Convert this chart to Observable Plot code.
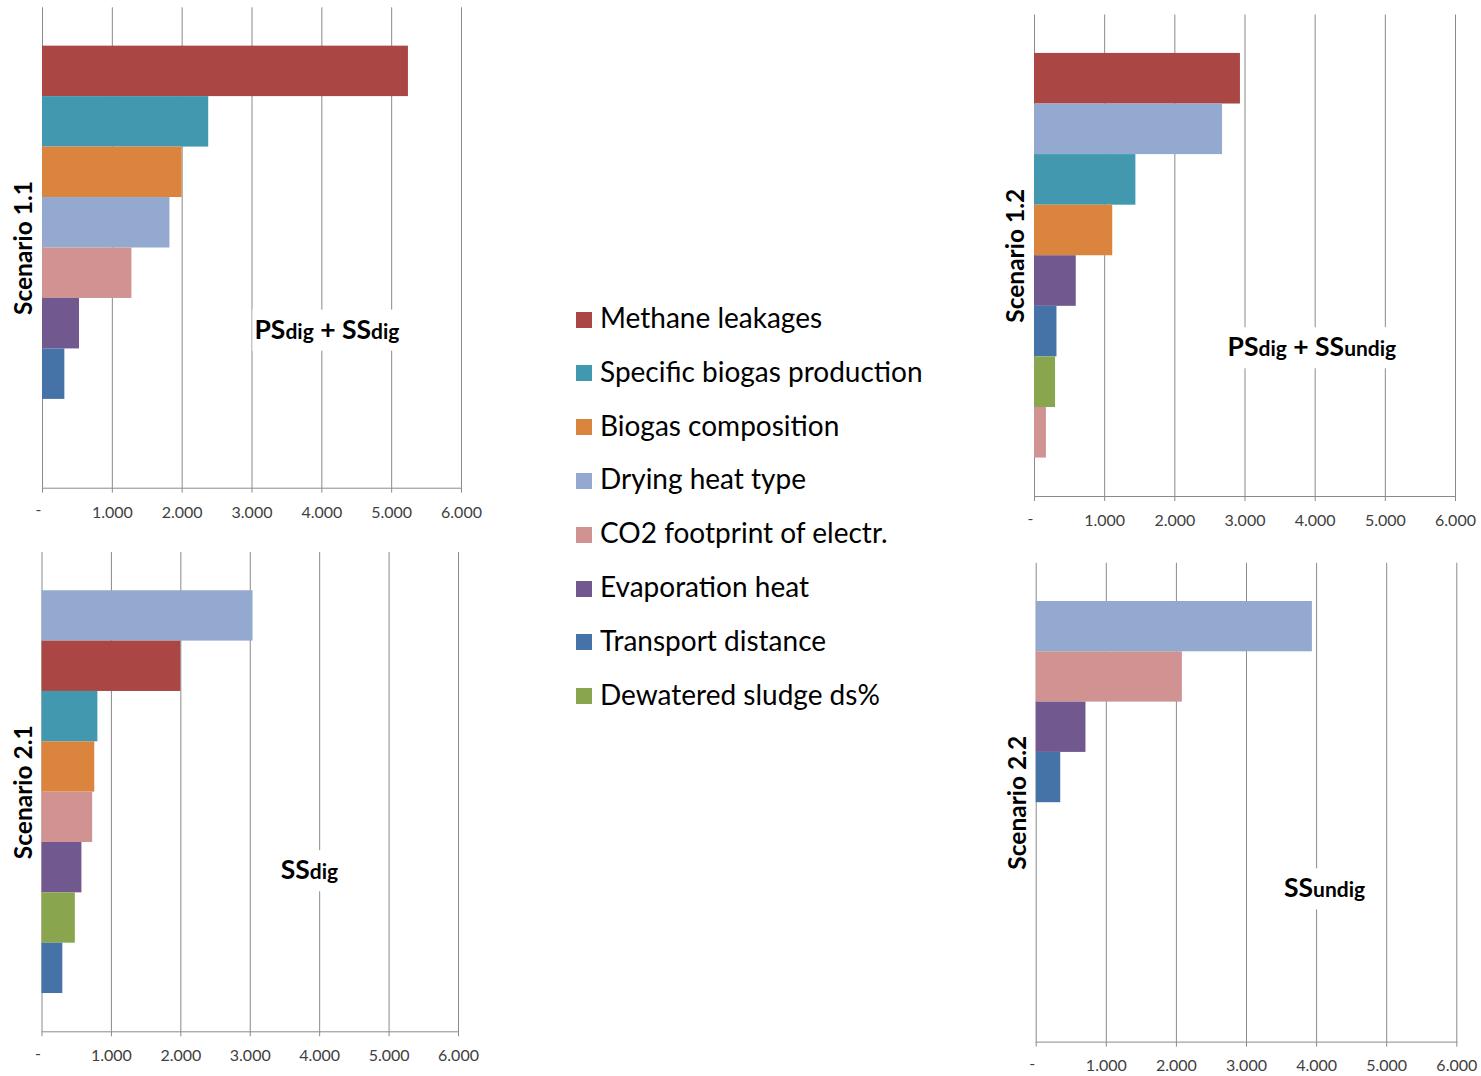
<!DOCTYPE html>
<html><head><meta charset="utf-8">
<script src="https://cdn.jsdelivr.net/npm/d3@7"></script>
<script src="https://cdn.jsdelivr.net/npm/@observablehq/plot@0.6"></script>
<style>
html,body{margin:0;padding:0;background:#fff;}
#root{position:relative;width:1481px;height:1076px;overflow:hidden;background:#fff;}
.panel{position:absolute;}
.legend-row{position:absolute;left:576px;height:34px;display:flex;align-items:center;}
.sw{width:16px;height:16px;margin-right:8px;flex:none;margin-top:5px;}
.lt{font-family:Lato,sans-serif;font-size:28px;color:#000;white-space:nowrap;line-height:34px;}
</style></head>
<body><div id="root"></div>
<script>
// ---- data ----
const categories = ["Methane leakages","Specific biogas production","Biogas composition","Drying heat type","CO2 footprint of electr.","Evaporation heat","Transport distance","Dewatered sludge ds%"];
const colors = ["#AA4643","#4198AF","#DB843D","#93A9CF","#D19392","#71588F","#4572A7","#89A54E"];
const scenarios = ["Scenario 1.1","Scenario 1.2","Scenario 2.1","Scenario 2.2"];
const values11 = [5240, 2380, 2000, 1825, 1280, 530, 320, null];
const values12 = [2935, 1445, 1115, 2680, 170, 595, 320, 300];
const values21 = [2000, 805, 760, 3040, 730, 575, 300, 480];
const values22 = [null, null, null, 3940, 2085, 710, 350, null];
const xTicks = [0, 1000, 2000, 3000, 4000, 5000, 6000];
const labels11 = ["PS","dig"," + SS","dig"];
const labels12 = ["PS","dig"," + SS","undig"];
const labels21 = ["SS","dig"];
const labels22 = ["SS","undig"];

// ---- layout ----
const layouts = [
  {values: values11, name: scenarios[0], label: labels11, left:0,   top:0,   width:490, height:530, mt:7.3,  mr:29,   mb:42.3, ml:42,   annX:4080, annY:0.67},
  {values: values12, name: scenarios[1], label: labels12, left:990, top:0,   width:491, height:540, mt:14.5, mr:26,   mb:44,   ml:44,   annX:3960, annY:0.69},
  {values: values21, name: scenarios[2], label: labels21, left:0,   top:540, width:490, height:536, mt:12,   mr:32,   mb:44.7, ml:41.5, annX:3860, annY:0.663},
  {values: values22, name: scenarios[3], label: labels22, left:990, top:550, width:491, height:526, mt:12.8, mr:24.7, mb:34.4, ml:45.7, annX:4120, annY:0.679}
];
const fmt = d => d3.format(",")(d).replace(/,/g, ".");
const root = document.getElementById("root");
const GRID = "#8a8a8a";
const BIG = 26.5, SMALL = 21;

layouts.forEach((L) => {
  const rows = categories.map((c, i) => ({category: c, value: L.values[i]}))
    .filter(d => d.value != null)
    .sort((a, b) => b.value - a.value);
  const slots = rows.map(d => d.category);
  for (let k = slots.length; k < categories.length; k++) slots.push("empty " + k);

  const chart = Plot.plot({
    width: L.width, height: L.height,
    marginTop: L.mt, marginRight: L.mr, marginBottom: L.mb, marginLeft: L.ml,
    style: {fontFamily: "Lato, sans-serif", fontSize: "16px", color: "#404040", background: "transparent"},
    x: {domain: [0, 6000], axis: null},
    y: {domain: slots, paddingInner: 0, paddingOuter: 0.76, round: false, axis: null},
    color: {domain: categories, range: colors},
    marks: [
      Plot.ruleX(xTicks, {stroke: GRID, strokeWidth: 1}),
      Plot.barX(rows, {x: "value", y: "category", fill: "category"}),
      Plot.frame({anchor: "bottom", stroke: GRID}),
      Plot.axisX({ticks: xTicks, tickSize: 5, tickPadding: 13, tickFormat: d => d === 0 ? "" : fmt(d), stroke: GRID, fill: "#404040", label: null}),
      Plot.text(["-"], {x: () => 0, frameAnchor: "bottom", dy: 27, dx: -4, text: d => d, fill: "#404040", fontSize: 16}),
      Plot.text([L.name], {frameAnchor: "left", text: d => d, rotate: -90, textAnchor: "middle", dx: -18, fontWeight: "bold", fontSize: 24.5, fill: "#000"})
    ]
  });
  const wrap = document.createElement("div");
  wrap.className = "panel";
  wrap.style.left = L.left + "px";
  wrap.style.top = L.top + "px";
  wrap.appendChild(chart);
  root.appendChild(wrap);

  // annotation with white box, positioned through the x scale
  const svg = d3.select(wrap).select("svg");
  const px = chart.scale("x").apply(L.annX);
  const frameH = L.height - L.mt - L.mb;
  const capCenter = L.mt + L.annY * frameH;
  const baseline = capCenter + 0.36 * BIG;
  const g = svg.append("g");
  const rect = g.append("rect").attr("fill", "#fff");
  const t = g.append("text").attr("x", px).attr("y", baseline).attr("text-anchor", "middle")
    .attr("font-family", "Lato, sans-serif").attr("font-weight", "bold").attr("fill", "#000");
  L.label.forEach((s, i) => {
    t.append("tspan").attr("font-size", i % 2 === 0 ? BIG : SMALL).style("white-space", "pre").text(s);
  });
  const bb = t.node().getBBox();
  rect.attr("x", bb.x - 2).attr("width", bb.width + 4)
      .attr("y", baseline - 0.72 * BIG - 10).attr("height", 0.72 * BIG + 22);
});

// ---- legend ----
categories.forEach((c, i) => {
  const row = document.createElement("div");
  row.className = "legend-row";
  row.style.top = (320 + i * 53.8 - 20) + "px";
  const sw = document.createElement("div");
  sw.className = "sw";
  sw.style.background = colors[i];
  const lt = document.createElement("div");
  lt.className = "lt";
  lt.textContent = c;
  row.appendChild(sw); row.appendChild(lt);
  root.appendChild(row);
});
</script>
</body></html>
